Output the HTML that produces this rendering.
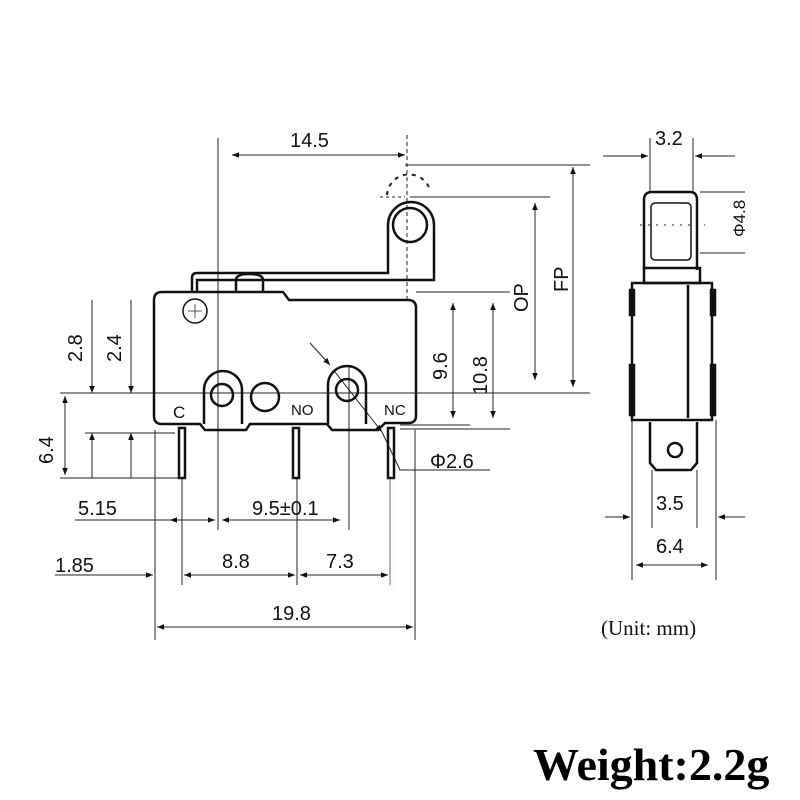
<!DOCTYPE html>
<html><head><meta charset="utf-8"><style>
html,body{margin:0;padding:0;background:#fff;width:800px;height:800px;overflow:hidden}
svg{display:block}
.t{font-family:"Liberation Sans",sans-serif;font-size:20px;fill:#111}
.s{font-family:"Liberation Sans",sans-serif;font-size:17px;fill:#111}
</style></head><body>
<svg width="800" height="800" viewBox="0 0 800 800" xmlns="http://www.w3.org/2000/svg">
<defs>
<marker id="a" viewBox="0 0 10 10" refX="10" refY="5" markerWidth="10" markerHeight="7" orient="auto-start-reverse"><path d="M0,1 L10,5 L0,9 z" fill="#111"/></marker>
</defs>
<g stroke="#222" stroke-width="1" fill="none">
<line x1="218" y1="138" x2="218" y2="530"/>
<line x1="407" y1="135" x2="407" y2="300" stroke-dasharray="4,3"/>
<line x1="349" y1="365" x2="349" y2="530"/>
<line x1="405" y1="165" x2="590" y2="165"/>
<line x1="410" y1="197" x2="550" y2="197"/>
<line x1="416" y1="292" x2="510" y2="292"/>
<line x1="60" y1="393" x2="590" y2="393"/>
<line x1="400" y1="425" x2="470" y2="425"/>
<line x1="400" y1="429" x2="510" y2="429"/>
<line x1="85" y1="433" x2="175" y2="433"/>
<line x1="60" y1="478" x2="185" y2="478"/>
<line x1="155" y1="430" x2="155" y2="640"/>
<line x1="415" y1="430" x2="415" y2="640"/>
<line x1="182" y1="478" x2="182" y2="585"/>
<line x1="297" y1="478" x2="297" y2="585"/>
<line x1="390" y1="478" x2="390" y2="585" stroke="#a55"/>
<line x1="232" y1="155" x2="405" y2="155" marker-start="url(#a)" marker-end="url(#a)"/>
<line x1="573" y1="167" x2="573" y2="387" marker-start="url(#a)" marker-end="url(#a)"/>
<line x1="535" y1="203" x2="535" y2="380" marker-start="url(#a)" marker-end="url(#a)"/>
<line x1="453" y1="303" x2="453" y2="418" marker-start="url(#a)" marker-end="url(#a)"/>
<line x1="493" y1="303" x2="493" y2="418" marker-start="url(#a)" marker-end="url(#a)"/>
<line x1="92" y1="300" x2="92" y2="393" marker-end="url(#a)"/>
<line x1="92" y1="478" x2="92" y2="433" marker-end="url(#a)"/>
<line x1="131" y1="300" x2="131" y2="393" marker-end="url(#a)"/>
<line x1="131" y1="478" x2="131" y2="433" marker-end="url(#a)"/>
<line x1="65" y1="396" x2="65" y2="475" marker-start="url(#a)" marker-end="url(#a)"/>
<line x1="75" y1="520" x2="170" y2="520"/>
<line x1="170" y1="520" x2="215" y2="520" marker-start="url(#a)" marker-end="url(#a)"/>
<line x1="222" y1="520" x2="340" y2="520" marker-start="url(#a)" marker-end="url(#a)"/>
<line x1="55" y1="575" x2="153" y2="575" marker-end="url(#a)"/>
<line x1="184" y1="575" x2="295" y2="575" marker-start="url(#a)" marker-end="url(#a)"/>
<line x1="300" y1="575" x2="388" y2="575" marker-start="url(#a)" marker-end="url(#a)"/>
<line x1="157" y1="627" x2="413" y2="627" marker-start="url(#a)" marker-end="url(#a)"/>
<line x1="310" y1="343" x2="330" y2="365" marker-end="url(#a)"/>
<line x1="335" y1="372" x2="382" y2="432" marker-end="url(#a)"/>
<polyline points="382,432 400,470 490,470"/>
<path d="M387,195 A22,22 0 0 1 430,190" stroke-dasharray="4,5" stroke-width="2"/>
<line x1="380" y1="197" x2="405" y2="197" stroke-dasharray="3,3"/>
</g>
<g stroke="#111" stroke-width="2.5" fill="none">
<path d="M162,292 H283 L289,300 H408 Q416,300 416,308 V416 Q416,423 408,423 H385 L378,430 H332 L327,424 H250 L246,430 H205 L200,424 H162 Q154,424 154,416 V300 Q154,292 162,292 Z"/>
<path d="M192,292 V278 Q192,273 197,273 H388 V225 A23,23 0 0 1 434,225 V280 H197 V292"/>
<circle cx="410" cy="225" r="17"/>
<path d="M236,292 V280 Q236,274 249,274 Q263,274 263,280 V292"/>
<circle cx="195" cy="311" r="12" stroke-width="1.5"/>
<path d="M204,424 V390 A18,18 0 0 1 242,390 V424"/>
<circle cx="222" cy="395" r="11"/>
<circle cx="265" cy="397" r="14"/>
<path d="M328,424 V385 A18,18 0 0 1 366,385 V424"/>
<circle cx="347" cy="390" r="11"/>
<rect x="179" y="428" width="6" height="50"/>
<rect x="293" y="428" width="6" height="50"/>
<rect x="388" y="428" width="6" height="50"/>
</g>
<g stroke="#555" stroke-width="1"><line x1="195" y1="304" x2="195" y2="318"/><line x1="188" y1="311" x2="202" y2="311"/></g>
<g stroke="#222" stroke-width="1" fill="none">
<line x1="650" y1="138" x2="650" y2="192"/><line x1="693" y1="138" x2="693" y2="192"/>
<line x1="603" y1="156" x2="648" y2="156" marker-end="url(#a)"/>
<line x1="735" y1="156" x2="695" y2="156" marker-end="url(#a)"/>
<line x1="700" y1="192" x2="745" y2="192"/><line x1="700" y1="253" x2="745" y2="253"/>
<line x1="652" y1="470" x2="652" y2="528"/><line x1="697" y1="470" x2="697" y2="528"/>
<line x1="632" y1="420" x2="632" y2="580"/><line x1="716" y1="420" x2="716" y2="580"/>
<line x1="605" y1="517" x2="630" y2="517" marker-end="url(#a)"/>
<line x1="745" y1="517" x2="718" y2="517" marker-end="url(#a)"/>
<line x1="636" y1="565" x2="708" y2="565" marker-start="url(#a)" marker-end="url(#a)"/>
<line x1="640" y1="225" x2="705" y2="225" stroke-dasharray="2,6"/>
</g>
<g stroke="#111" stroke-width="2.5" fill="none">
<path d="M644,270 V200 Q644,192 652,192 H690 Q697,192 697,200 V270"/>
<rect x="651" y="203" width="40" height="57" rx="4" stroke-width="1.5"/>
<rect x="644" y="268" width="56" height="15"/>
<rect x="632" y="283" width="80" height="137"/>
<line x1="688" y1="285" x2="688" y2="418"/>
<rect x="630" y="290" width="4" height="25" fill="#111"/><rect x="630" y="365" width="4" height="50" fill="#111"/>
<rect x="711" y="290" width="4" height="25" fill="#111"/><rect x="711" y="365" width="4" height="50" fill="#111"/>
<path d="M650,422 V463 L656,470 H691 L697,463 V422"/>
<circle cx="675" cy="450" r="7"/>
</g>
<text class="t" x="290" y="147">14.5</text>
<text class="t" x="655" y="145">3.2</text>
<text class="t" transform="translate(745,237) rotate(-90)" style="font-size:17px">Φ4.8</text>
<text class="t" transform="translate(528,312) rotate(-90)">OP</text>
<text class="t" transform="translate(568,292) rotate(-90)">FP</text>
<text class="t" transform="translate(447,380) rotate(-90)">9.6</text>
<text class="t" transform="translate(487,395) rotate(-90)">10.8</text>
<text class="t" transform="translate(82,362) rotate(-90)">2.8</text>
<text class="t" transform="translate(121,362) rotate(-90)">2.4</text>
<text class="t" transform="translate(53,464) rotate(-90)">6.4</text>
<text class="t" x="430" y="468">Φ2.6</text>
<text class="t" x="78" y="515">5.15</text>
<text class="t" x="252" y="515">9.5±0.1</text>
<text class="t" x="55" y="572">1.85</text>
<text class="t" x="222" y="568">8.8</text>
<text class="t" x="326" y="568">7.3</text>
<text class="t" x="272" y="620">19.8</text>
<text class="t" x="656" y="510">3.5</text>
<text class="t" x="656" y="553">6.4</text>
<text class="s" x="173" y="418">C</text>
<text class="s" x="291" y="415" style="font-size:15px">NO</text>
<text class="s" x="384" y="415" style="font-size:15px">NC</text>
<text x="601" y="635" style="font-family:'Liberation Serif',serif;font-size:21px;fill:#111">(Unit: mm)</text>
<text x="533" y="780" style="font-family:'Liberation Serif',serif;font-size:46px;font-weight:bold;fill:#000">Weight:2.2g</text>
</svg>
</body></html>
